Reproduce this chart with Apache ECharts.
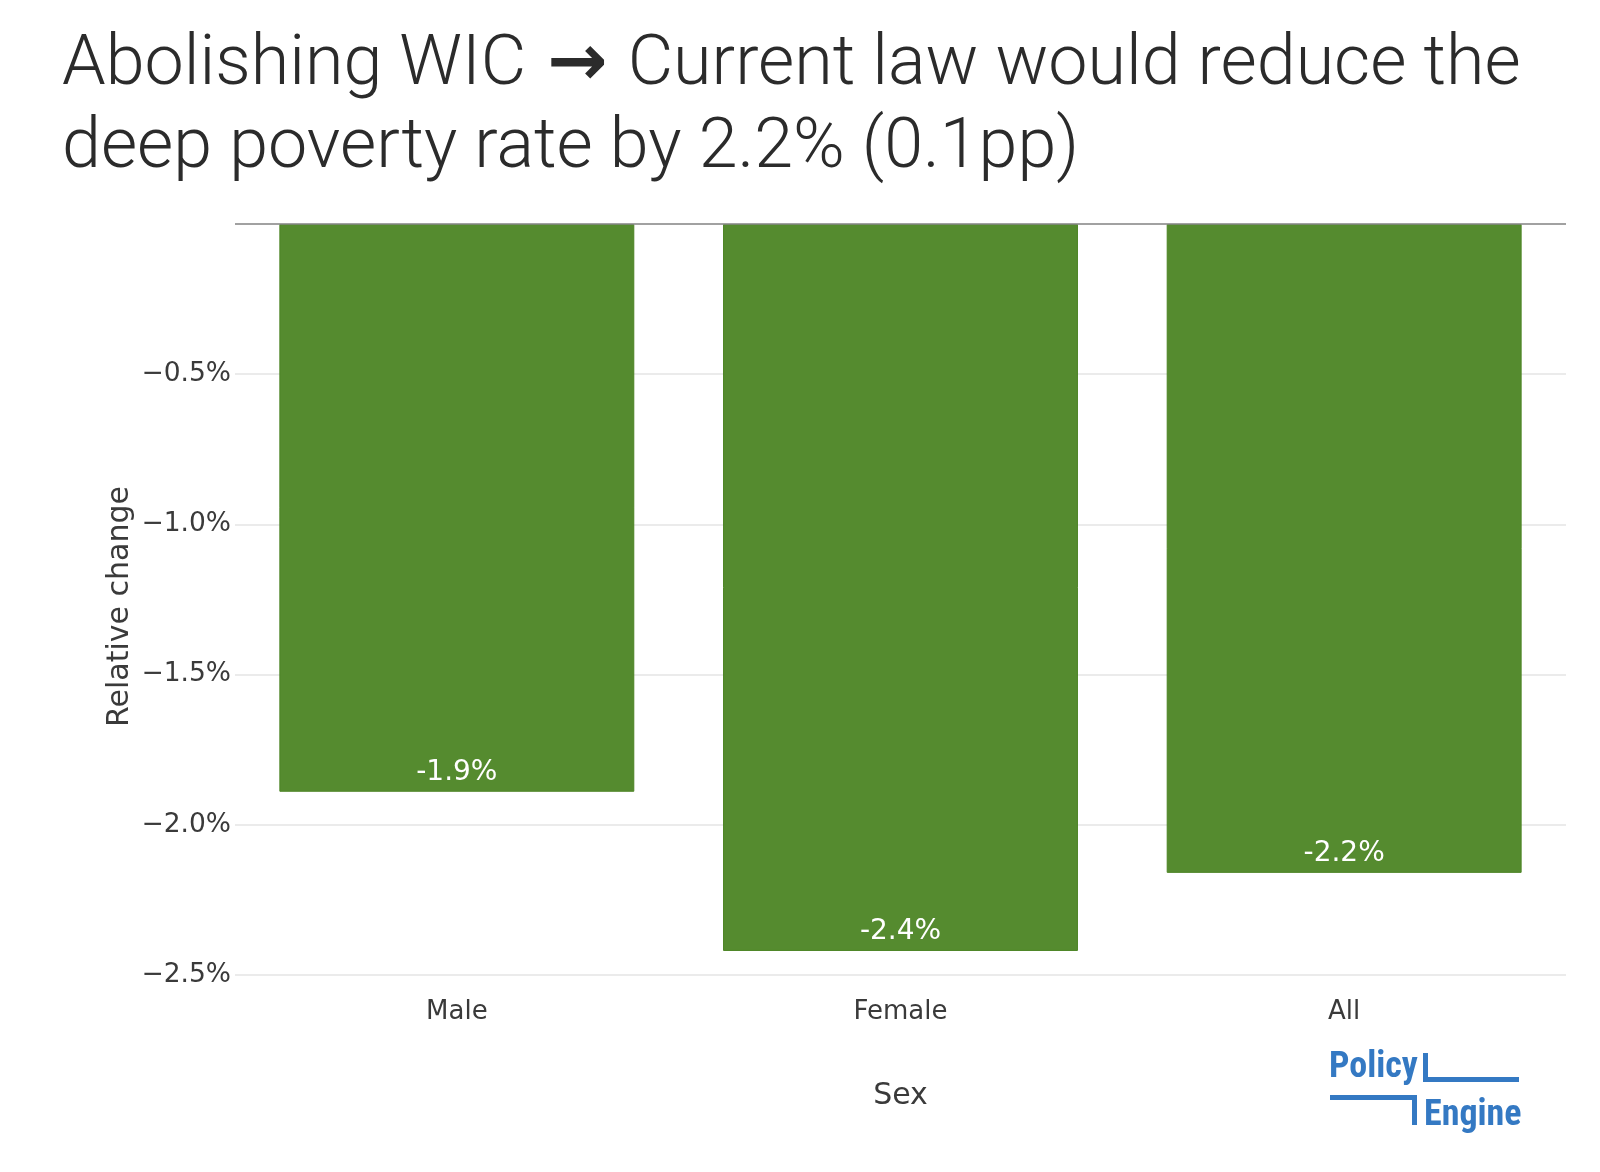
<!DOCTYPE html>
<html>
<head>
<meta charset="utf-8">
<title>Deep poverty by sex</title>
<script src="https://cdn.jsdelivr.net/npm/echarts@6/dist/echarts.min.js"></script>
<style>
  html, body { margin: 0; padding: 0; background: #fff; }
  #chart { width: 1600px; height: 1172px; }
</style>
</head>
<body>
<div id="chart"></div>
<script>
// data
var categories = ['Male', 'Female', 'All'];
var relativeChange = [-1.89, -2.42, -2.16]; // % change in deep poverty rate
var yTicks = [-2.5, -2.0, -1.5, -1.0, -0.5, 0];

var titleLines = [
    '{t|Abolishing WIC }{a|\u2192}{t| Current law would reduce the}'
    , '{t|deep poverty rate by 2.2% (0.1pp)}'
];

var logoBlue = '#3479c3';
var barGreen = '#558b2f';
var logoFont = 'bold 36px "Liberation Sans Narrow", "Roboto Condensed", Roboto, sans-serif';

var chart = echarts.init(document.getElementById('chart'));

var option = {
    backgroundColor: '#fff'
    , title: {
        text: titleLines.join('\n')
        , left: 57
        , top: 20
        , textStyle: {
            rich: {
                t: {
                    fontFamily: 'Roboto'
                    , fontWeight: 300
                    , fontSize: 70
                    , lineHeight: 83
                    , color: '#2b2b2b'
                }
                , a: {
                    fontFamily: 'DejaVu Sans'
                    , fontWeight: 'bold'
                    , fontSize: 72
                    , lineHeight: 83
                    , padding: [0, 3, 0, 4]
                    , color: '#2b2b2b'
                }
            }
        }
    }
    , grid: {
        left: 235
        , right: 34
        , top: 224
        , bottom: 197
    }
    , xAxis: {
        type: 'category'
        , data: categories
        , position: 'bottom'
        , name: 'Sex'
        , nameLocation: 'middle'
        , nameGap: 106
        , nameMoveOverlap: false
        , nameTextStyle: {
            fontFamily: 'DejaVu Sans'
            , fontSize: 30
            , color: '#3a3a3a'
        }
        , axisLine: { show: false, onZero: false }
        , axisTick: { show: false }
        , axisLabel: {
            margin: 24
            , fontFamily: 'DejaVu Sans'
            , fontSize: 26
            , color: '#3a3a3a'
        }
    }
    , yAxis: {
        type: 'value'
        , min: yTicks[0]
        , max: yTicks[yTicks.length - 1]
        , interval: 0.5
        , name: 'Relative change'
        , nameLocation: 'middle'
        , nameGap: 100
        , nameMoveOverlap: false
        , nameTextStyle: {
            fontFamily: 'DejaVu Sans'
            , fontSize: 30
            , color: '#3a3a3a'
            , padding: [0, 14, 0, 0]
        }
        , axisLine: { show: false }
        , axisTick: { show: false }
        , axisLabel: {
            margin: 4
            , fontFamily: 'DejaVu Sans'
            , fontSize: 26.5
            , color: '#3a3a3a'
            , formatter: function (v) {
                if (v === 0) return '';
                return '\u2212' + Math.abs(v).toFixed(1) + '%';
            }
        }
        , splitLine: {
            lineStyle: { color: '#ebebeb', width: 2 }
        }
    }
    , series: [
        {
            type: 'bar'
            , data: relativeChange
            , barCategoryGap: '20%'
            , itemStyle: {
                color: barGreen
                , borderColor: '#4c8424'
                , borderWidth: 1
            }
            , label: {
                show: true
                , position: 'insideBottom'
                , distance: 5
                , fontFamily: 'DejaVu Sans'
                , fontSize: 28
                , color: '#fff'
                , formatter: function (p) {
                    return p.value.toFixed(1) + '%';
                }
            }
            , markLine: {
                silent: true
                , symbol: 'none'
                , label: { show: false }
                , lineStyle: { color: '#888', width: 1.5, type: 'solid' }
                , data: [{ yAxis: 0 }]
            }
        }
    ]
    , graphic: [
        {
            type: 'text'
            , left: 1329
            , top: 1050
            , style: {
                text: 'Policy'
                , fill: logoBlue
                , font: logoFont
            }
        }
        , {
            type: 'text'
            , left: 1424
            , top: 1098
            , style: {
                text: 'Engine'
                , fill: logoBlue
                , font: logoFont
            }
        }
        , { type: 'rect', shape: { x: 1423, y: 1053, width: 5, height: 29 }, style: { fill: logoBlue } }
        , { type: 'rect', shape: { x: 1423, y: 1077, width: 96, height: 5 }, style: { fill: logoBlue } }
        , { type: 'rect', shape: { x: 1330, y: 1095, width: 87, height: 5 }, style: { fill: logoBlue } }
        , { type: 'rect', shape: { x: 1412, y: 1095, width: 5, height: 30 }, style: { fill: logoBlue } }
    ]
};

chart.setOption(option);
</script>
</body>
</html>
